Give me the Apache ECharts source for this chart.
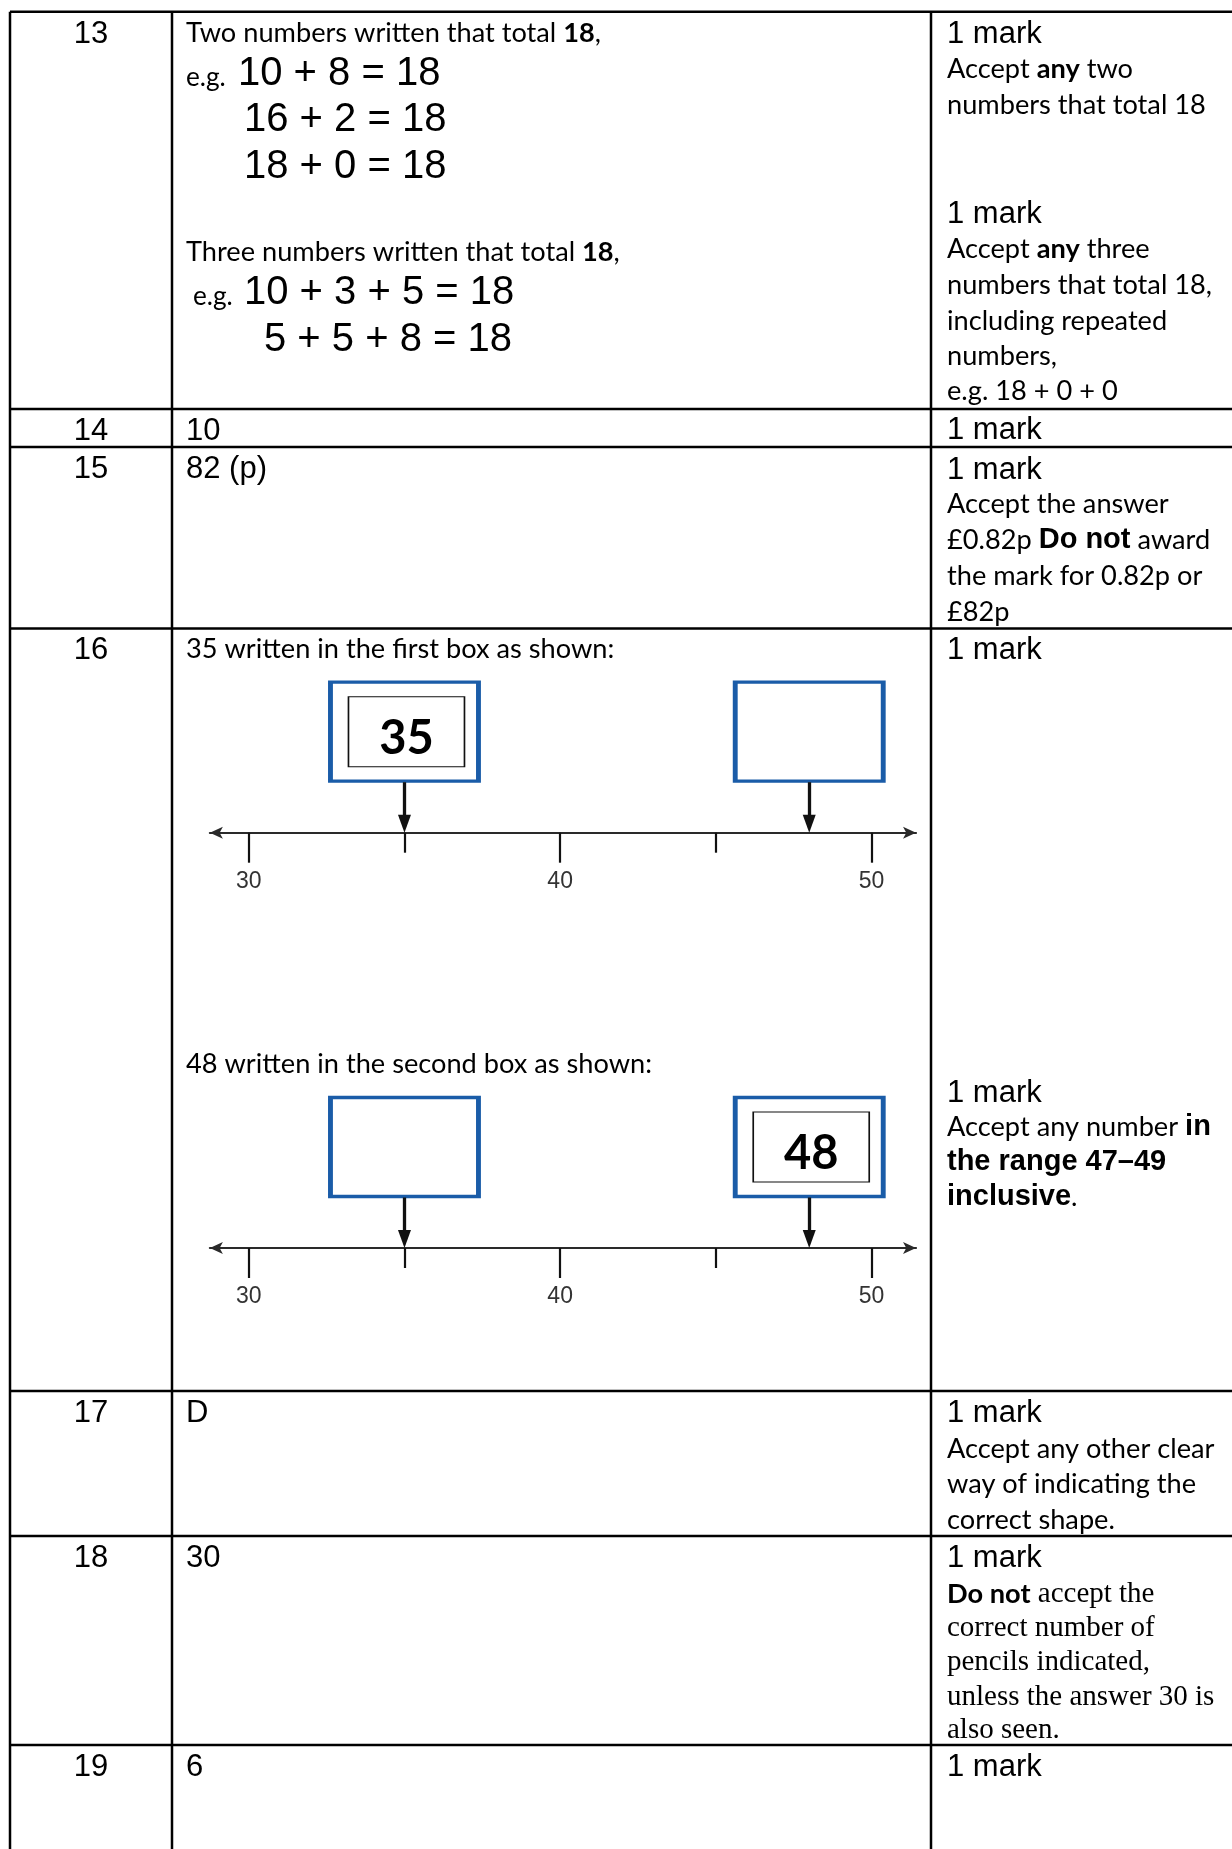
<!DOCTYPE html>
<html>
<head>
<meta charset="utf-8">
<script src="https://cdn.jsdelivr.net/npm/echarts@6/dist/echarts.min.js"></script>
<style>
html,body{margin:0;padding:0;background:#fff;}
#c{width:1232px;height:1849px;}
</style>
</head>
<body>
<div id="c"></div>
<script>
// ---------------- data ----------------
const questions = ['13', '14', '15', '16', '17', '18', '19'];
const twoNumberExamples = ['10 + 8 = 18', '16 + 2 = 18', '18 + 0 = 18'];
const threeNumberExamples = ['10 + 3 + 5 = 18', '5 + 5 + 8 = 18'];
const shortAnswers = ['10', '82 (p)', 'D', '30', '6'];          // questions 14, 15, 17, 18, 19
const markText = '1 mark';
const numberLineMajorTicks = [30, 40, 50];
const numberLineMinorTicks = [35, 45];
const numberLineRange = [28.75, 51.43];
const answerBoxValues = [35, 48];          // where the two boxes point on the number line
const writtenAnswers = [35, 48];           // answer written in box 1 (diagram 1) and box 2 (diagram 2)
const diagramCaptions = ['35 written in the first box as shown:', '48 written in the second box as shown:'];

// ---------------- layout ----------------
const W = 1232, H = 1849;
const colX = [10, 172, 931];
const rowY = [11.8, 409, 447, 628.5, 1391, 1536, 1745];
const CAL = 'Lato';
const ARI = "'Liberation Sans', Arial, sans-serif";
const TIM = "'Liberation Serif', 'Times New Roman', serif";
const FS_CAL = 27.2, FS_ARI = 31, FS_EQ = 40, FS_TIM = 29, FS_ARB = 29;
const DA = 2.4, DC = 1.2; // small vertical nudges for Arial / Calibri-like text

const colNumX = 91, col2X = 186, col3X = 947;

function txt(x, y, text, family, size, extra) {
  return {
    type: 'text', x: x, y: y, silent: true, z: 5,
    style: Object.assign({
      text: text, fill: '#000', fontFamily: family, fontSize: size, fontWeight: 'normal',
      align: 'left', verticalAlign: 'middle', textAlign: 'left', textVerticalAlign: 'middle'
    }, extra || {})
  };
}
const richCal = {
  n: { fontFamily: CAL, fontSize: FS_CAL, fill: '#000' },
  b: { fontFamily: CAL, fontWeight: 'bold', fontSize: FS_CAL, fill: '#000' },
  ab: { fontFamily: ARI, fontWeight: 'bold', fontSize: FS_ARB, fill: '#000' }
};

const graphics = [];
// table lines
rowY.forEach(function (y) {
  graphics.push({ type: 'line', silent: true, shape: { x1: colX[0], y1: y, x2: W, y2: y }, style: { stroke: '#000', lineWidth: 2.5 } });
});
colX.forEach(function (x) {
  graphics.push({ type: 'line', silent: true, shape: { x1: x, y1: rowY[0], x2: x, y2: H }, style: { stroke: '#000', lineWidth: 2.5 } });
});

// question numbers
questions.forEach(function (q, i) {
  graphics.push(txt(colNumX, rowY[i] + 20 + DA, q, ARI, FS_ARI, { align: 'center', textAlign: 'center' }));
});

// --- question 13, column 2
graphics.push(txt(col2X, 32 + DC, '{n|Two numbers written that total }{b|18}{n|,}', CAL, FS_CAL, { rich: richCal }));
graphics.push(txt(col2X, 78, 'e.g.', CAL, FS_CAL - 1));
const twoX = [238, 244, 244], twoY = [72, 118, 165];
twoNumberExamples.forEach(function (s, i) { graphics.push(txt(twoX[i], twoY[i] + DA, s, ARI, FS_EQ)); });
graphics.push(txt(col2X, 251 + DC, '{n|Three numbers written that total }{b|18}{n|,}', CAL, FS_CAL, { rich: richCal }));
graphics.push(txt(193, 297, 'e.g.', CAL, FS_CAL - 1));
const threeX = [244, 264], threeY = [291, 338];
threeNumberExamples.forEach(function (s, i) { graphics.push(txt(threeX[i], threeY[i] + DA, s, ARI, FS_EQ)); });

// short answers in column 2
const shortRows = [1, 2, 4, 5, 6];
shortAnswers.forEach(function (a, i) { graphics.push(txt(col2X, rowY[shortRows[i]] + 20 + DA, a, ARI, FS_ARI)); });

// diagram captions
graphics.push(txt(col2X, 648.5 + DC, diagramCaptions[0], CAL, FS_CAL));
graphics.push(txt(col2X, 1063.5 + DC, diagramCaptions[1], CAL, FS_CAL));

// --- column 3: marks
function calLine(y, s) {
  graphics.push(txt(col3X, y + DC, s, CAL, FS_CAL, { rich: richCal }));
}
function markLine(y) { graphics.push(txt(col3X, y + DA, markText, ARI, FS_ARI)); }

markLine(32);
calLine(68, 'Accept {b|any} two');
calLine(104, 'numbers that total 18');
markLine(212);
calLine(248, 'Accept {b|any} three');
calLine(284, 'numbers that total 18,');
calLine(320, 'including repeated');
calLine(355, 'numbers,');
calLine(390, 'e.g. 18 + 0 + 0');
markLine(428);
markLine(468);
calLine(503.5, 'Accept the answer');
calLine(539, '£0.82p {ab|Do not} award');
calLine(575, 'the mark for 0.82p or');
calLine(611, '£82p');
markLine(648.5);
markLine(1091);
calLine(1126, 'Accept any number {ab|in}');
calLine(1161, '{ab|the range 47–49}');
calLine(1196, '{ab|inclusive}.');
markLine(1411);
calLine(1448, 'Accept any other clear');
calLine(1483, 'way of indicating the');
calLine(1519, 'correct shape.');
markLine(1556);
const timRich = { b: { fontFamily: CAL, fontWeight: 'bold', fontSize: FS_CAL, fill: '#000' } };
graphics.push(txt(col3X, 1594, '{b|Do not} accept the', TIM, FS_TIM, { rich: timRich }));
['correct number of', 'pencils indicated,', 'unless the answer 30 is', 'also seen.'].forEach(function (s, i) {
  graphics.push(txt(col3X, [1628, 1662, 1697, 1730][i], s, TIM, FS_TIM));
});
markLine(1765);

// ---------------- number lines ----------------
const pxPerUnit = 31.135, x30 = 248.8;
const gridLeft = x30 + (numberLineRange[0] - 30) * pxPerUnit;
const gridWidth = (numberLineRange[1] - numberLineRange[0]) * pxPerUnit;
const lineYs = [832.7, 1248];
const gridAbove = 160, gridBelow = 40;
const boxCenterAbove = 101, boxBottomAbove = 50.5;
const majorTickLen = 30, minorTickLen = 20;
const tickStyle = { color: '#111', width: 2.2, type: 'solid' };

const grids = [], xAxes = [], yAxes = [], series = [];
lineYs.forEach(function (ly, d) {
  grids.push({ left: gridLeft, width: gridWidth, top: ly - gridAbove, height: gridAbove + gridBelow, containLabel: false });
  xAxes.push({
    gridIndex: d, type: 'value', min: numberLineRange[0], max: numberLineRange[1], position: 'bottom',
    axisLine: { show: true, onZero: true, lineStyle: { color: '#2a2a2a', width: 2.2 }, symbol: ['arrow', 'arrow'], symbolSize: [9, 13] },
    axisTick: { show: false },
    axisLabel: { show: true, customValues: numberLineMajorTicks, margin: -3, color: '#333', fontSize: 23, fontFamily: "'Liberation Sans Narrow', 'Liberation Sans', sans-serif" },
    splitLine: { show: false }
  });
  yAxes.push({ gridIndex: d, type: 'value', min: -gridBelow, max: gridAbove, show: false });

  const arrowLines = answerBoxValues.map(function (v) {
    return [{ coord: [v, boxBottomAbove], symbol: 'none' }, { coord: [v, 9], symbol: 'triangle', symbolSize: [13, 18] }];
  });
  const tickLines = numberLineMajorTicks.map(function (v) {
    return [{ coord: [v, 0], symbol: 'none', lineStyle: tickStyle }, { coord: [v, -majorTickLen], symbol: 'none' }];
  }).concat(numberLineMinorTicks.map(function (v) {
    return [{ coord: [v, 0], symbol: 'none', lineStyle: tickStyle }, { coord: [v, -minorTickLen], symbol: 'none' }];
  }));

  series.push({
    type: 'scatter', xAxisIndex: d, yAxisIndex: d, silent: true, clip: false, z: 3,
    symbol: 'rect', symbolSize: [148, 99],
    itemStyle: { color: '#fff', borderColor: '#1a5ca8', borderWidth: 4, opacity: 1 },
    data: answerBoxValues.map(function (v) { return [v, boxCenterAbove]; }),
    markLine: {
      silent: true, animation: false,
      symbol: ['none', 'none'],
      lineStyle: { color: '#111', width: 3.3, type: 'solid' },
      label: { show: false },
      emphasis: { disabled: true },
      data: arrowLines.concat(tickLines)
    }
  });
  series.push({
    type: 'scatter', xAxisIndex: d, yAxisIndex: d, silent: true, clip: false, z: 4,
    symbol: 'rect', symbolSize: [116, 70], symbolOffset: [2, 0],
    itemStyle: { color: '#fff', borderColor: '#111', borderWidth: 1.3, opacity: 1 },
    label: {
      show: true, position: 'inside', offset: [0, 7],
      formatter: function (p) { return String(p.value[0]); },
      fontFamily: CAL, fontWeight: 'bold', fontSize: 47, color: '#000'
    },
    data: [[writtenAnswers[d], boxCenterAbove]]
  });
});

const chart = echarts.init(document.getElementById('c'), null, { renderer: 'canvas', width: W, height: H });
chart.setOption({
  animation: false,
  backgroundColor: '#fff',
  grid: grids,
  xAxis: xAxes,
  yAxis: yAxes,
  series: series,
  graphic: { elements: graphics }
});
</script>
</body>
</html>
